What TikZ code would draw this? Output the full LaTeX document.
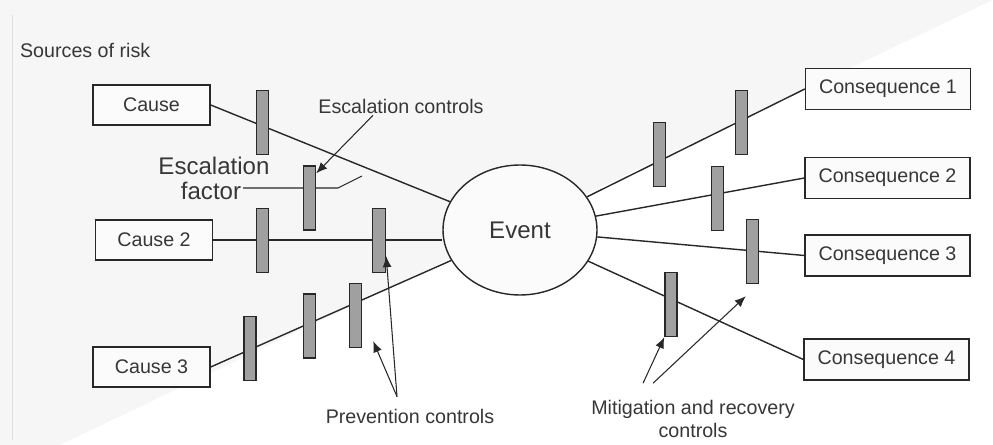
\documentclass[tikz,border=0pt]{standalone}
\usepackage{fontspec}
\setmainfont{Liberation Sans}
\usepackage{tikz}
\usetikzlibrary{arrows.meta, positioning, shapes.geometric, calc}
\definecolor{inkgray}{RGB}{40, 40, 40}
\definecolor{textgray}{RGB}{55, 55, 55}
\definecolor{barriergray}{RGB}{160, 160, 160}
\definecolor{backgray}{RGB}{246, 246, 246}
\tikzset{
    causebox/.style={draw=inkgray, thick, fill=white!60!backgray, minimum width=2.34cm, minimum height=0.8cm, inner sep=0pt, font=\fontsize{11.2}{13}\selectfont, text=textgray},
    consbox/.style={draw=inkgray, thick, fill=white!60!backgray, minimum width=3.3cm, minimum height=0.82cm, inner sep=0pt, font=\fontsize{11.2}{13}\selectfont, text=textgray},
    barrier/.style={draw=inkgray, thick, fill=barriergray, minimum width=0.24cm, minimum height=1.28cm, inner sep=0pt},
    ctrltext/.style={inner sep=1pt, font=\fontsize{11.2}{13}\selectfont, text=textgray},
    bigtext/.style={inner sep=1pt, font=\fontsize{13.7}{16}\selectfont, text=textgray},
    link/.style={draw=inkgray, thick},
    pointer/.style={draw=inkgray, semithick, -{Latex[length=2.2mm, width=1.8mm]}}
}

\begin{document}
\begin{tikzpicture}[x=0.02cm, y=-0.02cm]
    \useasboundingbox (0,0) rectangle (993,445);
    \fill[backgray] (0,0) rectangle (993,445);
    \fill[white] (993,0) -- (993,445) -- (60,445) -- cycle;
    \draw[gray!25] (12,15) -- (12,440);

    % causes, event and consequences
    \node[ctrltext, anchor=west] (sources) at (18,50) {Sources of risk};
    \node[causebox] (cause1) at (151.5,105) {Cause};
    \node[causebox] (cause2) at (154,240) {Cause 2};
    \node[causebox] (cause3) at (151.5,367) {Cause 3};
    \node[draw=inkgray, thick, fill=white!60!backgray, ellipse, minimum width=3.08cm, minimum height=2.6cm, inner sep=0pt, font=\fontsize{13.7}{16}\selectfont, text=textgray] (event) at (520,230) {Event};
    \node[consbox] (cons1) at (888,89) {Consequence 1};
    \node[consbox] (cons2) at (887.5,178) {Consequence 2};
    \node[consbox] (cons3) at (887.5,255.5) {Consequence 3};
    \node[consbox] (cons4) at (886.5,359.5) {Consequence 4};

    \draw[link] (cause1.east) -- (event);
    \draw[link] (cause2.east) -- (cause2.east -| event.west);
    \draw[link] (cause3.east) -- (event);
    \draw[link] (event) -- (cons1.west);
    \draw[link] (event) -- (cons2.west);
    \draw[link] (event) -- (cons3.west);
    \draw[link] (event) -- (cons4.west);

    % escalation factor
    \node[bigtext] (escword) at (214,166) {Escalation};
    \node[bigtext] (factorword) at (211,191) {factor};
    \coordinate (factorturn) at (338,188);
    \coordinate (factorend) at (362,176);
    \draw[link, semithick] (factorword.east |- factorturn) -- (factorturn) -- (factorend);

    % barriers
    \node[barrier] (c1bar) at (262.5,122.5) {};
    \node[barrier] (escbar) at (309.5,198) {};
    \node[barrier] (c2bar1) at (262.5,240.5) {};
    \node[barrier, minimum width=0.26cm] (c2bar2) at (379,240.5) {};
    \node[barrier] (c3bar1) at (250,348.5) {};
    \node[barrier] (c3bar2) at (309.5,326) {};
    \node[barrier] (c3bar3) at (355.5,315.5) {};
    \node[barrier] (k1bar1) at (659.5,154.5) {};
    \node[barrier] (k1bar2) at (741.5,122.5) {};
    \node[barrier] (k2bar) at (717.5,198.5) {};
    \node[barrier] (k3bar) at (752.5,251.5) {};
    \node[barrier] (k4bar) at (671,304.5) {};

    % control labels and pointers
    \node[ctrltext] (esccontrols) at (401,106) {Escalation controls};
    \node[ctrltext] (prevcontrols) at (410,416) {Prevention controls};
    \node[ctrltext, align=center] (mitcontrols) at (693,419) {Mitigation and recovery\\controls};

    \draw[pointer] ([xshift=-0.56cm]esccontrols.south) -- ([yshift=-0.16cm]escbar.north east);
    \coordinate (prevfork) at ([xshift=-0.26cm, yshift=0.2cm]prevcontrols.north);
    \draw[pointer] (prevfork) -- ([yshift=0.34cm]c2bar2.south east);
    \draw[pointer] (prevfork) -- ([xshift=0.22cm, yshift=0.14cm]c3bar3.south east);
    \coordinate (mitfork1) at ([xshift=-1cm, yshift=0.3cm]mitcontrols.north);
    \coordinate (mitfork2) at ([xshift=-0.8cm, yshift=0.3cm]mitcontrols.north);
    \draw[pointer] (mitfork1) -- (k4bar.south west);
    \draw[pointer] (mitfork2) -- ([yshift=-0.24cm]k3bar.south west);
\end{tikzpicture}
\end{document}
